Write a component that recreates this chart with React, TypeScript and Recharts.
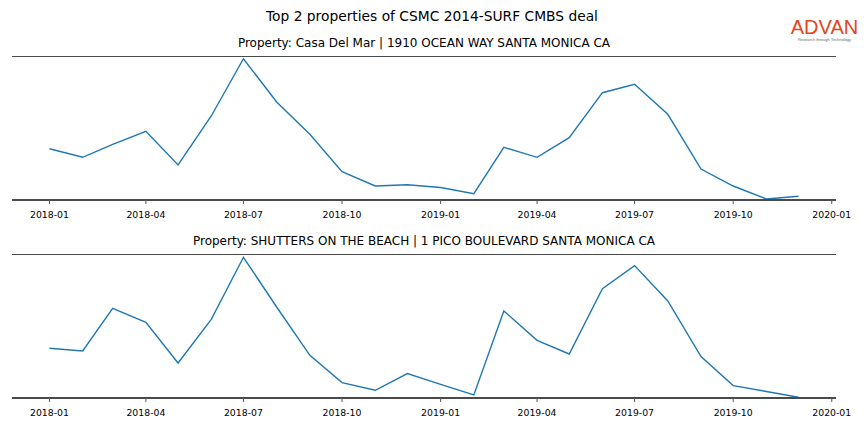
import React from "react";
import { LineChart, Line, XAxis, YAxis, ReferenceLine } from "recharts";

const months = [
  "2018-01","2018-02","2018-03","2018-04","2018-05","2018-06","2018-07","2018-08","2018-09","2018-10","2018-11","2018-12",
  "2019-01","2019-02","2019-03","2019-04","2019-05","2019-06","2019-07","2019-08","2019-09","2019-10","2019-11","2019-12",
];
const casaDelMar = [51.3,42.7,55.7,68.7,35,84,141.3,98,65.7,28.3,14,15.3,12.5,6.3,52.7,42.7,62.3,107.3,115.7,85.7,31,14,1,3.7];
const shutters = [49.7,47,89.7,75.7,35,78.7,140.7,91,42.7,15.4,7.7,24.4,13.7,3,87,57.7,44,109.4,132.4,97,41.4,12.4,6.5,0.7];
const tickLabels = ["2018-01","2018-04","2018-07","2018-10","2019-01","2019-04","2019-07","2019-10","2020-01"];

const mainTitle = "Top 2 properties of CSMC 2014-SURF CMBS deal";
const titles = [
  "Property: Casa Del Mar | 1910 OCEAN WAY SANTA MONICA CA",
  "Property: SHUTTERS ON THE BEACH | 1 PICO BOULEVARD SANTA MONICA CA",
];

const DAY = 86400000;
const base = Date.UTC(2018, 0, 1);
const toDays = (m: string) => {
  const [y, mo] = m.split("-").map(Number);
  return (Date.UTC(y, mo - 1, 1) - base) / DAY;
};
const tickDays = tickLabels.map(toDays);
const labelByDay: Record<number, string> = {};
tickLabels.forEach((l, i) => (labelByDay[tickDays[i]] = l));

const first = toDays(months[0]);
const last = toDays(months[months.length - 1]);
const pad = (last - first) * 0.05;

const FONT = "'DejaVu Sans', sans-serif";

function Panel({ values, top }: { values: number[]; top: number }) {
  const data = months.map((m, i) => ({ t: toDays(m), v: values[i] }));
  return (
    <div style={{ position: "absolute", left: 0, top, width: 864, height: 230 }}>
      <LineChart width={864} height={174} data={data} margin={{ top: 0, left: 12, right: 28, bottom: 0 }}>
        <XAxis
          dataKey="t"
          type="number"
          domain={[first - pad, last + pad]}
          ticks={tickDays}
          tickFormatter={(d: number) => labelByDay[d] ?? ""}
          height={30}
          axisLine={{ stroke: "#4a4a4a", strokeWidth: 2 }}
          tickLine={{ stroke: "#555", strokeWidth: 1 }}
          tickSize={4}
          tickMargin={7}
          tick={{ fill: "#000", fontSize: 9.33, fontFamily: FONT }}
          allowDataOverflow
          interval={0}
        />
        <YAxis hide domain={[0, 144]} allowDataOverflow />
        <ReferenceLine y={144} stroke="#4a4a4a" strokeWidth={2} />
        <Line type="linear" dataKey="v" stroke="#1f77b4" strokeWidth={1.4} dot={false} isAnimationActive={false} />
      </LineChart>
    </div>
  );
}

export default function App() {
  return (
    <div style={{ position: "absolute", left: 0, top: 0, width: 864, height: 432, background: "#fff" }}>
      <Panel values={casaDelMar} top={56} />
      <Panel values={shutters} top={254} />
      <svg width={864} height={432} style={{ position: "absolute", left: 0, top: 0, pointerEvents: "none" }}>
        <text x={432} y={21} textAnchor="middle" fontFamily={FONT} fontSize={13.8} fill="#000">{mainTitle}</text>
        <text x={424} y={46.5} textAnchor="middle" fontFamily={FONT} fontSize={12} fill="#000">{titles[0]}</text>
        <text x={424} y={244.5} textAnchor="middle" fontFamily={FONT} fontSize={12} fill="#000">{titles[1]}</text>
        <text x={824.5} y={34} textAnchor="middle" fontFamily="'Liberation Sans', sans-serif" fontSize={20} fill="#e2461c">ADVAN</text>
        <text x={824.5} y={40.5} textAnchor="middle" fontFamily="'Liberation Sans', sans-serif" fontSize={4} fill="#666">Research through Technology</text>
      </svg>
    </div>
  );
}
